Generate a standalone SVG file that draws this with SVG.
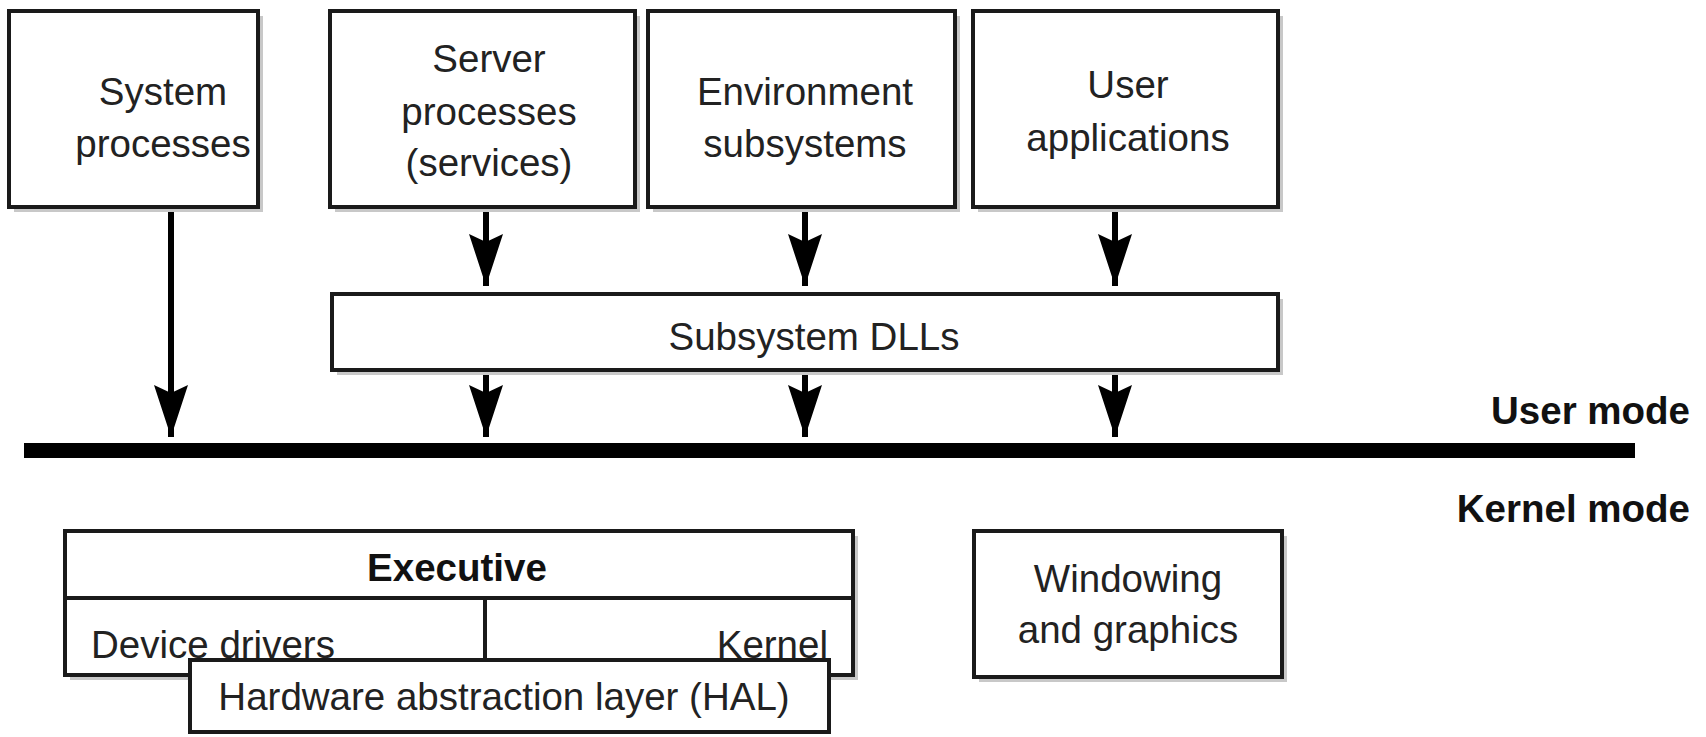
<svg xmlns="http://www.w3.org/2000/svg" width="1706" height="737" viewBox="0 0 1706 737">
<defs>
<style>
.box{fill:#fff;stroke:#1a1a1a;stroke-width:4}
.sh{fill:#c8c8c8}
.t{font-family:"Liberation Sans",Arial,sans-serif;font-size:38.5px;fill:#222;text-anchor:middle}
.b{font-weight:bold;fill:#111}
.conn{stroke:#000;stroke-width:6;fill:none;marker-end:url(#ah)}
</style>
<marker id="ah" markerUnits="userSpaceOnUse" markerWidth="52" markerHeight="34" viewBox="0 0 52 34" refX="52" refY="17" orient="auto">
<path d="M0,0 L52,17 L0,34 L8,17 Z" fill="#000"/>
</marker>
</defs>
<rect width="1706" height="737" fill="#fff"/>

<g id="connectors">
<line class="conn" x1="171" y1="209" x2="171" y2="437"/>
<line class="conn" x1="486" y1="209" x2="486" y2="286"/>
<line class="conn" x1="805" y1="209" x2="805" y2="286"/>
<line class="conn" x1="1115" y1="209" x2="1115" y2="286"/>
<line class="conn" x1="486" y1="372" x2="486" y2="437"/>
<line class="conn" x1="805" y1="372" x2="805" y2="437"/>
<line class="conn" x1="1115" y1="372" x2="1115" y2="437"/>
</g>

<g id="mode-bar">
<rect x="24" y="443" width="1611" height="15" fill="#000"/>
<text class="t b" x="1690" y="424" style="text-anchor:end">User mode</text>
<text class="t b" x="1690" y="522" style="text-anchor:end">Kernel mode</text>
</g>

<g id="system-processes">
<rect class="sh" x="14" y="16" width="249" height="196"/>
<rect class="box" x="9" y="11" width="249" height="196"/>
<text class="t" x="163" y="105">System</text>
<text class="t" x="163" y="157">processes</text>
</g>

<g id="server-processes">
<rect class="sh" x="335" y="16" width="305" height="196"/>
<rect class="box" x="330" y="11" width="305" height="196"/>
<text class="t" x="489" y="72">Server</text>
<text class="t" x="489" y="125">processes</text>
<text class="t" x="489" y="176">(services)</text>
</g>

<g id="environment-subsystems">
<rect class="sh" x="653" y="16" width="307" height="196"/>
<rect class="box" x="648" y="11" width="307" height="196"/>
<text class="t" x="805" y="105">Environment</text>
<text class="t" x="805" y="157">subsystems</text>
</g>

<g id="user-applications">
<rect class="sh" x="978" y="16" width="305" height="196"/>
<rect class="box" x="973" y="11" width="305" height="196"/>
<text class="t" x="1128" y="98">User</text>
<text class="t" x="1128" y="151">applications</text>
</g>

<g id="subsystem-dlls">
<rect class="sh" x="337" y="299" width="946" height="76"/>
<rect class="box" x="332" y="294" width="946" height="76"/>
<text class="t" x="814" y="350">Subsystem DLLs</text>
</g>

<g id="executive">
<rect class="sh" x="70" y="536" width="788" height="144"/>
<rect class="box" x="65" y="531" width="788" height="144"/>
<line x1="65" y1="598" x2="853" y2="598" stroke="#1a1a1a" stroke-width="4"/>
<line x1="485" y1="598" x2="485" y2="660" stroke="#1a1a1a" stroke-width="4"/>
<text class="t b" x="457" y="581">Executive</text>
<text class="t" x="91" y="658" style="text-anchor:start">Device drivers</text>
<text class="t" x="828" y="658" style="text-anchor:end">Kernel</text>
</g>

<g id="hal">
<rect class="box" x="190" y="660" width="639" height="72"/>
<text class="t" x="504" y="710">Hardware abstraction layer (HAL)</text>
</g>

<g id="windowing-graphics">
<rect class="sh" x="979" y="536" width="308" height="146"/>
<rect class="box" x="974" y="531" width="308" height="146"/>
<text class="t" x="1128" y="592">Windowing</text>
<text class="t" x="1128" y="643">and graphics</text>
</g>
</svg>
